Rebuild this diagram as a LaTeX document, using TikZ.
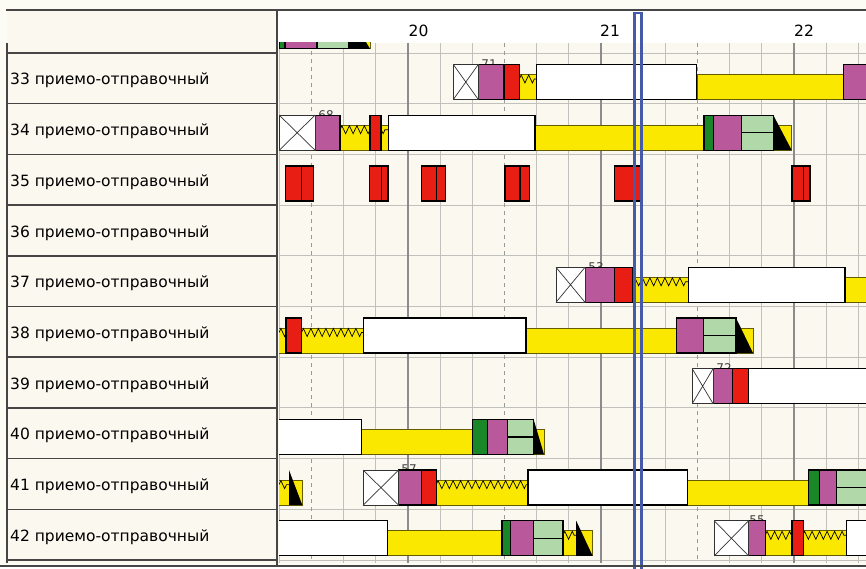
\documentclass[tikz,border=0pt]{standalone}
\usepackage{fontspec}
\setmainfont{DejaVu Sans}
\usetikzlibrary{decorations.pathmorphing}
\definecolor{paper}{RGB}{253,252,244}
\definecolor{cream}{RGB}{251,248,240}
\definecolor{gridgray}{RGB}{192,192,188}
\definecolor{hourgray}{RGB}{140,140,140}
\definecolor{panelgray}{RGB}{70,70,70}
\definecolor{plum}{RGB}{186,88,156}
\definecolor{signal}{RGB}{232,30,20}
\definecolor{canary}{RGB}{250,232,0}
\definecolor{leaf}{RGB}{25,135,40}
\definecolor{mint}{RGB}{176,216,168}
\definecolor{cursor}{RGB}{70,90,170}
\tikzset{
  gridln/.style={draw=gridgray,line width=0.9pt},
  hourln/.style={draw=hourgray,line width=1.4pt},
  halfln/.style={draw=gridgray!80!black,line width=0.9pt,dash pattern=on 4pt off 4pt},
  panelln/.style={draw=panelgray,line width=1.5pt},
  barbox/.style={draw=black,line width=1.3pt},
  band/.style={fill=canary,draw=black!60!canary,line width=0.8pt},
  crossbox/.style={fill=white,draw=black!80,line width=0.7pt},
  zig/.style={draw=black,line width=0.7pt,decorate,decoration={zigzag,segment length=7.5pt,amplitude=4pt}},
  rowlabel/.style={anchor=base west,inner sep=0pt,font=\fontsize{15.5}{18}\selectfont},
  hourlabel/.style={anchor=base,inner sep=0pt,font=\fontsize{15.5}{18}\selectfont},
  tinylbl/.style={inner sep=0pt,font=\fontsize{12}{14}\selectfont,text=black!75}
}
\begin{document}
\begin{tikzpicture}[x=1pt,y=-1pt,declare function={ry(\r)=53+(\r-33)*50.7;}]
  \useasboundingbox (0,0) rectangle (866,569);
  % backgrounds
  \fill[paper] (0,0) rectangle (866,569);
  \fill[cream] (7,10) rectangle (277,563);
  \fill[white] (277,10) rectangle (866,43);
  \fill[cream] (277,43) rectangle (866,563);
  \fill[white] (0,566) rectangle (866,569);
  \begin{scope}
    \clip (279,43) rectangle (866,562);
    % grid
    \foreach \r in {33,...,43} \draw[gridln] (277,{ry(\r)}) -- (866,{ry(\r)});
    \foreach \k in {-4,-2,-1,1,2,4,5,7,8,10,11,13,14} \draw[gridln] ({408+32.17*\k},43) -- ({408+32.17*\k},563);
    \foreach \k in {-3,3,9} \draw[halfln] ({408+32.17*\k},43) -- ({408+32.17*\k},563);
    \foreach \k in {0,6,12} \draw[hourln] ({408+32.17*\k},43) -- ({408+32.17*\k},563);
    % train numbers, mostly hidden
    \foreach \r/\x/\t in {33/489/71,34/326/68,37/596/53,39/724/72,41/409/57,42/757/55}
      \node[tinylbl] (num\r) at (\x,{ry(\r)+11}) {\t};
    % yellow bands
    \foreach \r/\a/\b in {32/349/370,33/519.3/537,33/697/843.3,34/340/388,34/535/704,34/773.3/791.7,
        37/633/688.4,37/845/870,38/275/363.2,38/526/676.2,38/736/753,40/361.3/472.7,40/533.6/544,
        41/275/302.3,41/436.2/527.9,41/687.6/808.2,42/387.2/502,42/562.9/592.6,42/765.2/846.3}
      \draw[band] (\a,{ry(\r)+21.5}) rectangle (\b,{ry(\r)+46.5});
    \foreach \r/\a/\b in {33/519.3/536.7,34/340/388,37/633/688.4,38/279/363.2,41/279/289,
        41/436.2/527.9,42/562.9/576.2,42/765.2/846.3}
      \draw[zig] (\a,{ry(\r)+26}) -- (\b,{ry(\r)+26});
    % triangles
    \foreach \r/\a/\b in {32/349/370,34/773.3/791.7,38/736/753,40/533.6/544,41/289/302.3,42/576.2/592.6}
      \fill[black] (\a,{ry(\r)+11.5}) -- (\b,{ry(\r)+46.5}) -- (\a,{ry(\r)+46.5}) -- cycle;
    % plain boxes
    \foreach \r/\a/\b/\c in {32/285/317/plum,33/478.3/504/plum,33/843.3/870/plum,34/315/340/plum,
        34/713.3/741.7/plum,37/585/614.2/plum,38/676.2/703.6/plum,39/713.1/732.2/plum,40/487.6/507.7/plum,
        41/398.6/421.4/plum,41/819.6/836.7/plum,42/510.8/533.2/plum,42/748.5/765.2/plum,
        33/504/519.3/signal,34/370/381/signal,37/614.2/633/signal,38/286/301.2/signal,39/732.2/748.5/signal,
        41/421.4/436.2/signal,42/791.9/803.3/signal,
        35/285.2/301.2/signal,35/301.2/313.7/signal,35/369.7/381.4/signal,35/381.4/387.9/signal,
        35/421.4/436.2/signal,35/436.2/445.7/signal,35/505/520/signal,35/520/529.4/signal,
        35/614.2/641/signal,35/791.9/803.7/signal,35/803.7/810.1/signal,
        32/279/285/leaf,34/704/713.3/leaf,40/472.7/487.6/leaf,41/808.2/819.6/leaf,42/502/510.8/leaf,
        33/536.7/696.7/white,34/388.3/535/white,37/688.4/845.1/white,38/363.2/526/white,39/748.5/870/white,
        40/270/361.3/white,41/527.9/687.6/white,42/270/387.2/white,42/846.3/870/white}
      \draw[barbox,fill=\c] (\a,{ry(\r)+11.5}) rectangle (\b,{ry(\r)+46.5});
    % split boxes
    \foreach \r/\a/\b in {32/317/349,34/741.7/773.3,38/703.6/736,40/507.7/533.6,41/836.7/870,42/533.2/562.9} {
      \draw[barbox,fill=mint] (\a,{ry(\r)+11.5}) rectangle (\b,{ry(\r)+46.5});
      \draw[barbox] (\a,{ry(\r)+29}) -- (\b,{ry(\r)+29});
    }
    % crossed boxes
    \foreach \r/\a/\b in {33/453.3/478.3,34/279.3/315,37/556/585,39/692.2/713.1,41/363.2/398.6,42/714.3/748.5} {
      \draw[crossbox] (\a,{ry(\r)+11.5}) rectangle (\b,{ry(\r)+46.5});
      \draw[crossbox] (\a,{ry(\r)+11.5}) -- (\b,{ry(\r)+46.5}) (\a,{ry(\r)+46.5}) -- (\b,{ry(\r)+11.5});
    }
  \end{scope}
  % current time
  \draw[cursor,line width=2.6pt] (634.5,575) -- (634.5,13) -- (641.7,13) -- (641.7,575);
  % panel
  \draw[panelln] (6,10) -- (866,10);
  \draw[panelln] (7,43) -- (7,563);
  \draw[panelln] (277,10) -- (277,566);
  \foreach \r in {33,...,43} \draw[panelln] (7,{ry(\r)}) -- (277,{ry(\r)});
  \draw[panelln] (0,566) -- (866,566);
  \foreach \r in {33,...,42} \node[rowlabel] (row\r) at (10,{ry(\r)+32}) {\r\ приемо-отправочный};
  \foreach \h/\x in {20/418.5,21/610,22/804} \node[hourlabel] (h\h) at (\x,37) {\h};
\end{tikzpicture}
\end{document}
